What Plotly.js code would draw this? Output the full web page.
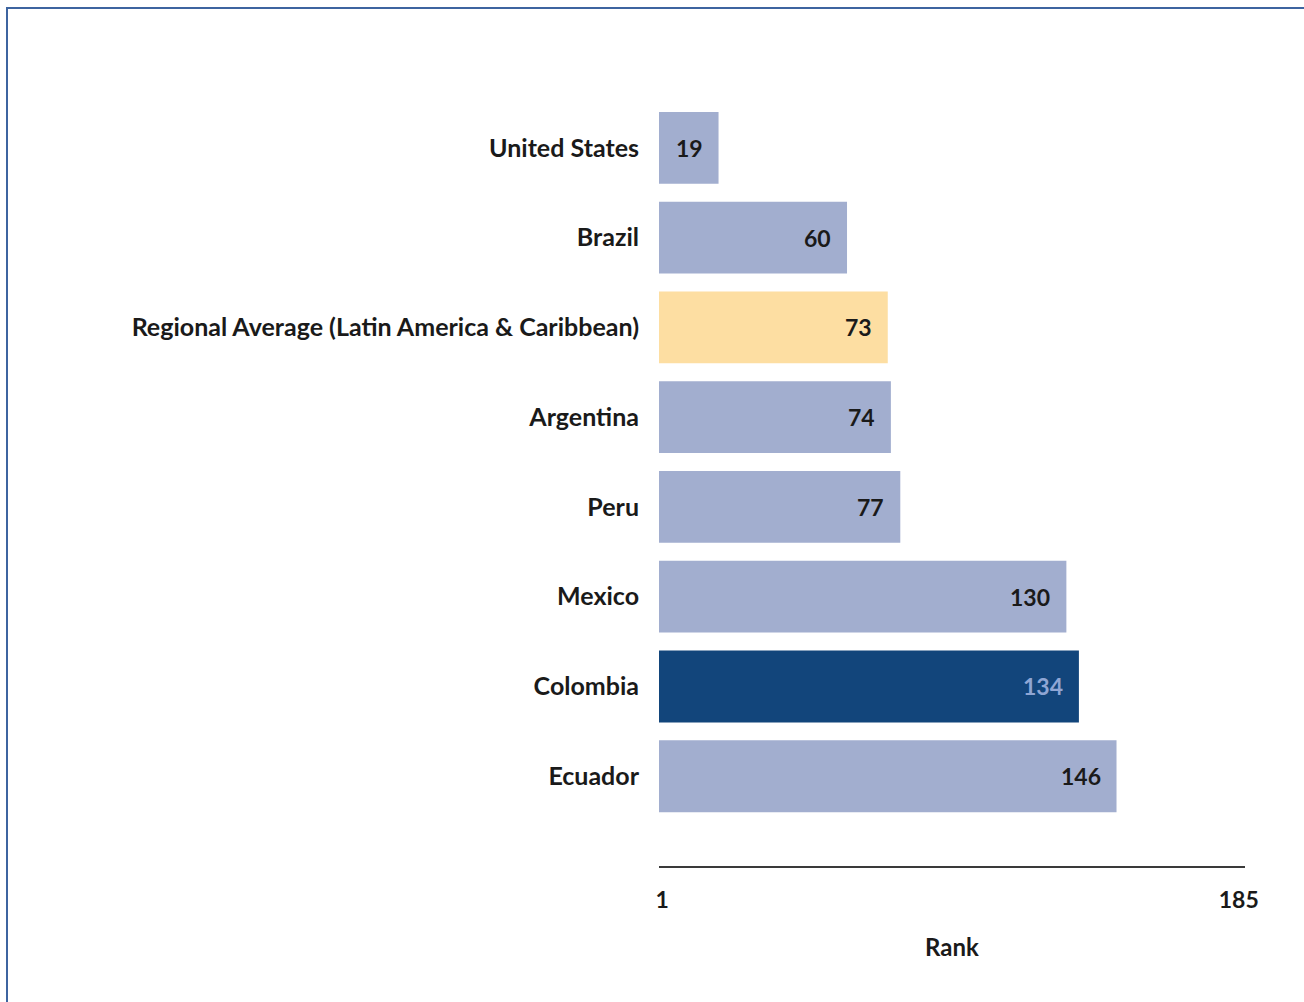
<!DOCTYPE html>
<html>
<head>
<meta charset="utf-8">
<script src="https://cdn.plot.ly/plotly-3.0.1.min.js"></script>
<style>
html,body{margin:0;padding:0;background:#fff;overflow:hidden;}
#frame{position:absolute;left:6px;top:7px;width:1400px;height:1100px;border-left:2px solid #3d64a0;border-top:2px solid #3d64a0;box-sizing:border-box;}
#chart{position:absolute;left:0;top:0;width:1304px;height:1002px;}
</style>
</head>
<body>
<div id="frame"></div>
<div id="chart"></div>
<script>
const countries = ["United States","Brazil","Regional Average (Latin America & Caribbean)","Argentina","Peru","Mexico","Colombia","Ecuador"];
const ranks = [19,60,73,74,77,130,134,146];
const barColors = ["#A2AECF","#A2AECF","#FDDEA2","#A2AECF","#A2AECF","#A2AECF","#12457B","#A2AECF"];
const labelColors = ["#1a1a1a","#1a1a1a","#1a1a1a","#1a1a1a","#1a1a1a","#1a1a1a","#8FA6D4","#1a1a1a"];
const xTickVals = [1,185];
const xTickText = ["1","185"];

const font = "Lato, 'Open Sans', sans-serif";

const trace = {
  type: "bar",
  orientation: "h",
  x: ranks,
  y: countries,
  marker: {color: barColors, line: {width: 0}},
  hoverinfo: "none"
};

const annotations = countries.map((c, i) => ({
  x: ranks[i], y: c, xref: "x", yref: "y",
  text: String(ranks[i]), showarrow: false,
  xanchor: "right", xshift: -14,
  font: {family: font, size: 23, color: labelColors[i], weight: 700}
}));

const layout = {
  width: 1304, height: 1002,
  margin: {l: 659, r: 59, t: 103, b: 136},
  paper_bgcolor: "rgba(0,0,0,0)",
  plot_bgcolor: "rgba(0,0,0,0)",
  showlegend: false,
  bargap: 0.2,
  xaxis: {
    range: [0, 187],
    tickvals: xTickVals, ticktext: xTickText,
    showgrid: false, zeroline: false,
    showline: true, linecolor: "#3a3a3a", linewidth: 2,
    ticks: "outside", ticklen: 12, tickcolor: "rgba(0,0,0,0)",
    tickfont: {family: font, size: 23, color: "#1a1a1a", weight: 700},
    title: {text: "Rank", standoff: 28, font: {family: font, size: 24, color: "#1a1a1a", weight: 700}},
    fixedrange: true
  },
  yaxis: {
    type: "category",
    categoryorder: "array",
    categoryarray: countries.slice().reverse(),
    range: [-1, 7.5],
    showgrid: false, zeroline: false, showline: false,
    ticks: "outside", ticklen: 14, tickcolor: "rgba(0,0,0,0)",
    tickfont: {family: font, size: 25, color: "#1a1a1a", weight: 700},
    fixedrange: true
  },
  annotations: annotations
};

Plotly.newPlot("chart", [trace], layout, {displayModeBar: false, staticPlot: true});
</script>
</body>
</html>
